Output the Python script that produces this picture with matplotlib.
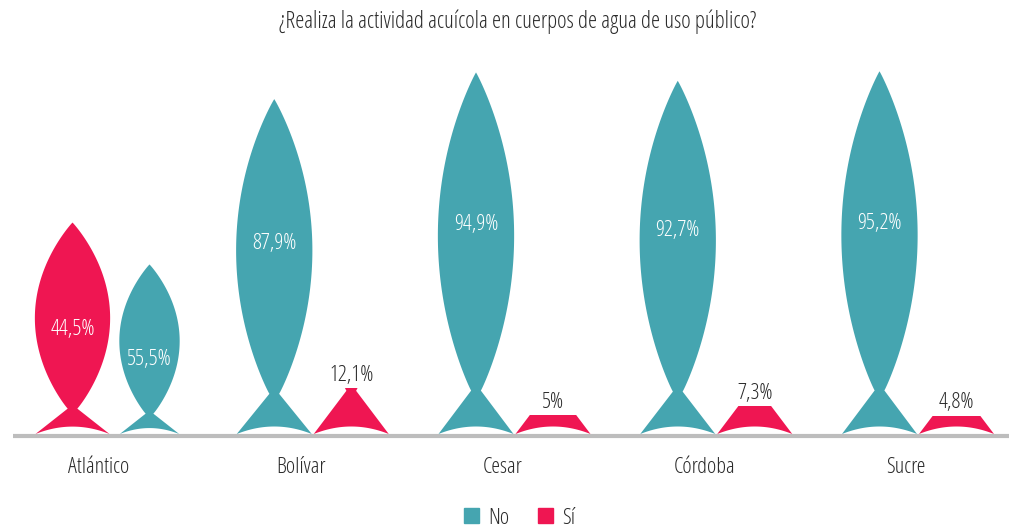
import numpy as np
import matplotlib.pyplot as plt
from matplotlib.patches import Polygon, Rectangle, Patch

plt.rcParams['font.family'] = ['Open Sans', 'DejaVu Sans']
plt.rcParams['font.stretch'] = 'condensed'

# datos
categories = ['Atlántico', 'Bolívar', 'Cesar', 'Córdoba', 'Sucre']
no_values = [44.5, 87.9, 94.9, 92.7, 95.2]
si_values = [55.5, 12.1, 5.0, 7.3, 4.8]
no_labels = ['55,5%', '87,9%', '94,9%', '92,7%', '95,2%']
si_labels = ['44,5%', '12,1%', '5%', '7,3%', '4,8%']
no_first = [False, True, True, True, True]

TEAL = '#45a5b0'
PINK = '#ef1652'
TXT = '#2b2b2b'

PX_X = 201.75   # pixels per category
PX_Y = 3.81     # pixels per percent


def fish_outline(h_px, w_px):
    # fish symbol in pixel units, centred at x=0, base at y=0
    t = 0.12 * h_px
    n = 0.065 * w_px
    a = 0.1 * w_px
    xs = np.linspace(w_px / 2, -w_px / 2, 40)
    arc = a * (1 - (2 * xs / w_px) ** 2)
    s = np.linspace(0, 1, 150)
    u = 2 * s - 1
    hw = w_px / 2 * (1 - u ** 2) ** 0.95 + n * (1 - s) ** 3
    yb = t + s * (h_px - t)
    X = np.concatenate([xs, -hw, hw[::-1]])
    Y = np.concatenate([arc, yb, yb[::-1]])
    return X, Y


fig = plt.figure(figsize=(10.09, 5.29), dpi=100)
ax = fig.add_axes([0, 95 / 529, 1, 381 / 529])
ax.set_xlim(-111 / PX_X, (1009 - 111) / PX_X)
ax.set_ylim(0, 100)
ax.axis('off')

ax.plot([(13 - 111) / PX_X, (1009 - 111) / PX_X], [-0.55, -0.55],
        color='#bdbdbd', lw=3, zorder=1, clip_on=False, solid_capstyle='butt')

for i, cat in enumerate(categories):
    series = [(no_values[i], no_labels[i], TEAL), (si_values[i], si_labels[i], PINK)]
    if not no_first[i]:
        series = series[::-1]
    for k, (v, lab, col) in enumerate(series):
        off = -38.5 if k == 0 else 38.5
        cx = i + off / PX_X
        if v >= 20:
            h_px = v * PX_Y
            X, Y = fish_outline(h_px, min(75, 0.35 * h_px))
            ax.add_patch(Polygon(np.column_stack([cx + X / PX_X, Y / PX_Y]),
                                 closed=True, fc=col, ec='none', zorder=2))
            ax.text(cx, 0.7 * v - 11.5, lab, color='white', ha='center',
                    va='center', fontsize=16, zorder=3)
        else:
            X, Y = fish_outline(360, 75)
            p = Polygon(np.column_stack([cx + X / PX_X, Y / PX_Y]),
                        closed=True, fc=col, ec='none', zorder=2)
            ax.add_patch(p)
            clip = Rectangle((cx - 45 / PX_X, 0), 90 / PX_X, v, transform=ax.transData)
            p.set_clip_path(clip)
            ax.text(cx, v + 0.6, lab, color=TXT, ha='center', va='bottom',
                    fontsize=16, zorder=3)
    ax.text(i - 12 / PX_X, -8.8, cat, color=TXT, ha='center', va='center',
            fontsize=16, clip_on=False)

fig.text(0.513, 1 - 22 / 529, '¿Realiza la actividad acuícola en cuerpos de agua de uso público?',
         ha='center', va='center', fontsize=16.5, color=TXT)

fig.legend(handles=[Patch(color=TEAL, label='No'), Patch(color=PINK, label='Sí')],
           loc='center', bbox_to_anchor=(0.515, 11 / 529), ncol=2, frameon=False,
           handlelength=0.67, handleheight=0.67, columnspacing=1.3, handletextpad=0.4,
           fontsize=16, labelcolor=TXT)

plt.savefig('out.png', dpi=100)
